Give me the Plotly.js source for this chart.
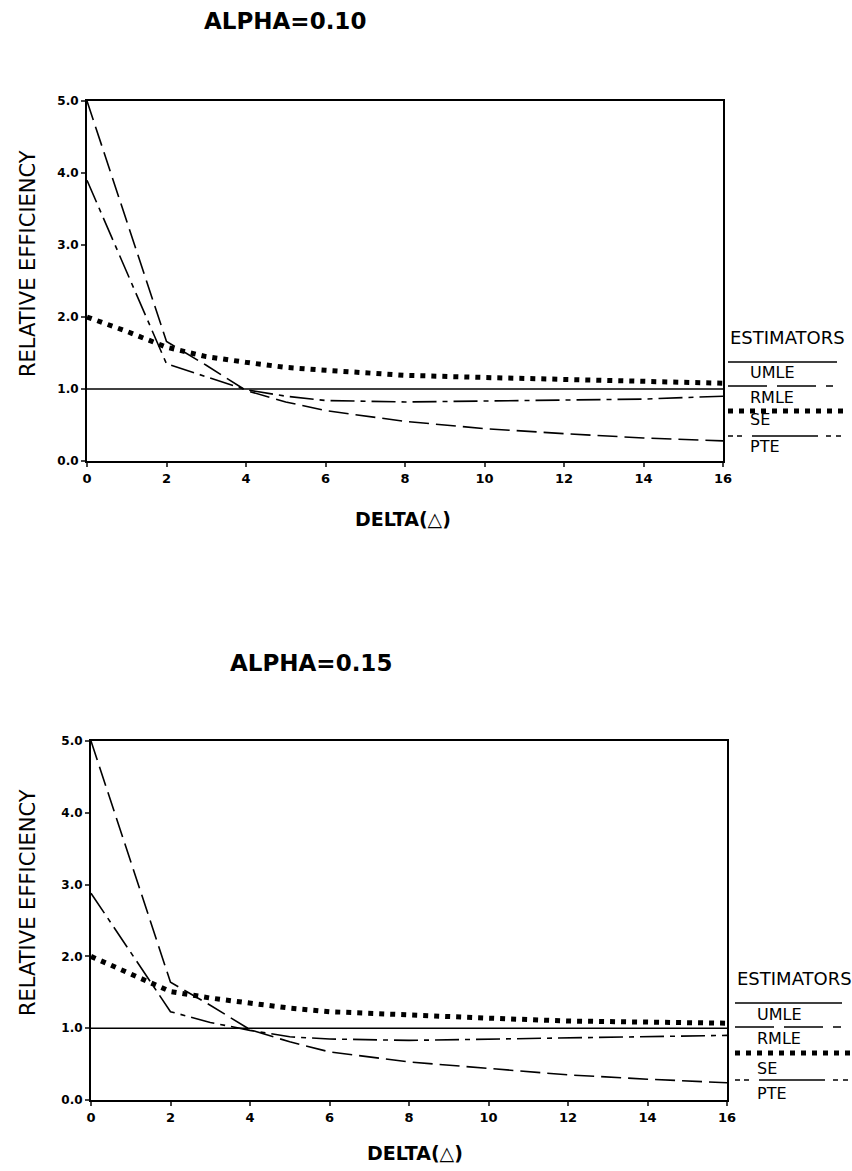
<!DOCTYPE html>
<html>
<head>
<meta charset="utf-8">
<script src="https://cdn.plot.ly/plotly-3.0.1.min.js"></script>
<style>html,body{margin:0;padding:0;background:#fff;}#chart{width:852px;height:1171px;}</style>
</head>
<body>
<div id="chart"></div>
<script>
// ---- data ----
const delta = [0, 1, 2, 3, 4, 5, 6, 8, 10, 12, 14, 16];
const xTicks = [0, 2, 4, 6, 8, 10, 12, 14, 16];
const yTicks = [0, 1, 2, 3, 4, 5];
const estimators = ["UMLE", "RMLE", "SE", "PTE"];
const panelTitles = ["ALPHA=0.10", "ALPHA=0.15"];

// ALPHA = 0.10
const umle10 = [1, 1, 1, 1, 1, 1, 1, 1, 1, 1, 1, 1];
const rmle10 = [5.0, 3.33, 1.66, 1.33, 0.98, 0.82, 0.70, 0.55, 0.45, 0.38, 0.32, 0.28];
const se10   = [2.0, 1.80, 1.58, 1.45, 1.37, 1.30, 1.26, 1.19, 1.16, 1.13, 1.10, 1.08];
const pte10  = [3.9, 2.62, 1.35, 1.17, 0.99, 0.90, 0.84, 0.82, 0.83, 0.84, 0.86, 0.90];

// ALPHA = 0.15
const umle15 = [1, 1, 1, 1, 1, 1, 1, 1, 1, 1, 1, 1];
const rmle15 = [5.0, 3.32, 1.64, 1.32, 0.98, 0.81, 0.67, 0.53, 0.44, 0.35, 0.29, 0.24];
const se15   = [2.0, 1.76, 1.51, 1.42, 1.35, 1.28, 1.23, 1.18, 1.14, 1.10, 1.09, 1.07];
const pte15  = [2.88, 2.06, 1.23, 1.08, 0.97, 0.88, 0.85, 0.83, 0.845, 0.86, 0.88, 0.90];

// ---- styles ----
const W = 852, H = 1171;
const px = x => x / W;
const py = y => 1 - y / H;
const styles = {
  UMLE: {color: "#000", width: 1.6, dash: "solid"},
  RMLE: {color: "#000", width: 1.6, dash: "20px,7px"},
  SE:   {color: "#000", width: 5,   dash: "5px,6px"},
  PTE:  {color: "#000", width: 1.6, dash: "24px,6px,5px,6px"}
};
const legendDash = {
  UMLE: "solid",
  RMLE: "39px,10px",
  SE: "5px,6px",
  PTE: "5px,4px,5px,10px,66px,8px,5px,5px,5px,30px"
};

function mk(y, name, xa, ya) {
  return {x: delta, y: y, name: name, type: "scatter", mode: "lines",
          line: Object.assign({}, styles[name]), xaxis: xa, yaxis: ya,
          hoverinfo: "x+y+name"};
}

const traces = [
  mk(umle10, "UMLE", "x", "y"), mk(rmle10, "RMLE", "x", "y"),
  mk(pte10, "PTE", "x", "y"), mk(se10, "SE", "x", "y"),
  mk(umle15, "UMLE", "x2", "y2"), mk(rmle15, "RMLE", "x2", "y2"),
  mk(pte15, "PTE", "x2", "y2"), mk(se15, "SE", "x2", "y2")
];

const tickFontX = {family: "DejaVu Sans", size: 13, color: "#000", weight: "bold"};
const tickFontY = {family: "DejaVu Sans", size: 12, color: "#000", weight: "bold"};

function xAxis(d, anchor) {
  return {domain: d, range: [0, 16], anchor: anchor, tickvals: xTicks,
          ticktext: xTicks.map(String), ticks: "outside", ticklen: 4, tickwidth: 2,
          showline: true, linewidth: 2, linecolor: "#000", mirror: true,
          showgrid: false, zeroline: false, tickfont: tickFontX, fixedrange: true};
}
function yAxis(d, anchor) {
  return {domain: d, range: [0, 5], anchor: anchor, tickvals: yTicks,
          ticktext: yTicks.map(v => v.toFixed(1)), ticks: "outside", ticklen: 4, tickwidth: 2,
          showline: true, linewidth: 2, linecolor: "#000", mirror: true,
          showgrid: false, zeroline: false, tickfont: tickFontY, fixedrange: true};
}

// panel geometry (pixels)
const panels = [
  {l: 87, r: 723, t: 101, b: 461, titleX: 285, titleY: 21, dX: 403, dY: 519, yTX: 28, yTY: 264,
   legX: 728, legTextX: 748, est: 337, lines: [362, 386, 411, 436], texts: [372, 397, 420, 446], ends: [837, 833, 843, 843]},
  {l: 91, r: 727, t: 741, b: 1100, titleX: 311, titleY: 663, dX: 415, dY: 1153, yTX: 28, yTY: 903,
   legX: 735, legTextX: 755, est: 978, lines: [1003, 1027, 1053, 1080], texts: [1014, 1038, 1068, 1093], ends: [842, 841, 850, 850]}
];

const annotations = [];
const shapes = [];
panels.forEach((p, i) => {
  annotations.push({text: panelTitles[i], xref: "paper", yref: "paper", x: px(p.titleX), y: py(p.titleY),
    xanchor: "center", yanchor: "middle", showarrow: false,
    font: {family: "DejaVu Sans", size: 23, weight: "bold", color: "#000"}});
  annotations.push({text: "DELTA(\u25B3)", xref: "paper", yref: "paper", x: px(p.dX), y: py(p.dY),
    xanchor: "center", yanchor: "middle", showarrow: false,
    font: {family: "DejaVu Sans", size: 19, weight: "bold", color: "#000"}});
  annotations.push({text: "RELATIVE EFFICIENCY", xref: "paper", yref: "paper", x: px(p.yTX), y: py(p.yTY),
    xanchor: "center", yanchor: "middle", showarrow: false, textangle: -90,
    font: {family: "DejaVu Sans", size: 21, color: "#000"}});
  annotations.push({text: "ESTIMATORS", xref: "paper", yref: "paper", x: px(p.legX), y: py(p.est),
    xanchor: "left", yanchor: "middle", showarrow: false,
    font: {family: "DejaVu Sans", size: 18, color: "#000"}});
  estimators.forEach((name, k) => {
    shapes.push({type: "line", xref: "paper", yref: "paper",
      x0: px(p.legX), x1: px(p.ends[k]), y0: py(p.lines[k]), y1: py(p.lines[k]),
      line: {color: "#000", width: styles[name].width, dash: legendDash[name]}});
    annotations.push({text: name, xref: "paper", yref: "paper", x: px(p.legTextX), y: py(p.texts[k]),
      xanchor: "left", yanchor: "middle", showarrow: false,
      font: {family: "DejaVu Sans", size: 16, color: "#000"}});
  });
});

const layout = {
  width: W, height: H,
  margin: {l: 0, r: 0, t: 0, b: 0, pad: 0},
  paper_bgcolor: "#fff", plot_bgcolor: "#fff",
  showlegend: false,
  xaxis: xAxis([px(panels[0].l), px(panels[0].r)], "y"),
  yaxis: yAxis([py(panels[0].b), py(panels[0].t)], "x"),
  xaxis2: xAxis([px(panels[1].l), px(panels[1].r)], "y2"),
  yaxis2: yAxis([py(panels[1].b), py(panels[1].t)], "x2"),
  annotations: annotations,
  shapes: shapes
};

Plotly.newPlot("chart", traces, layout, {displayModeBar: false, staticPlot: true});
</script>
</body>
</html>
